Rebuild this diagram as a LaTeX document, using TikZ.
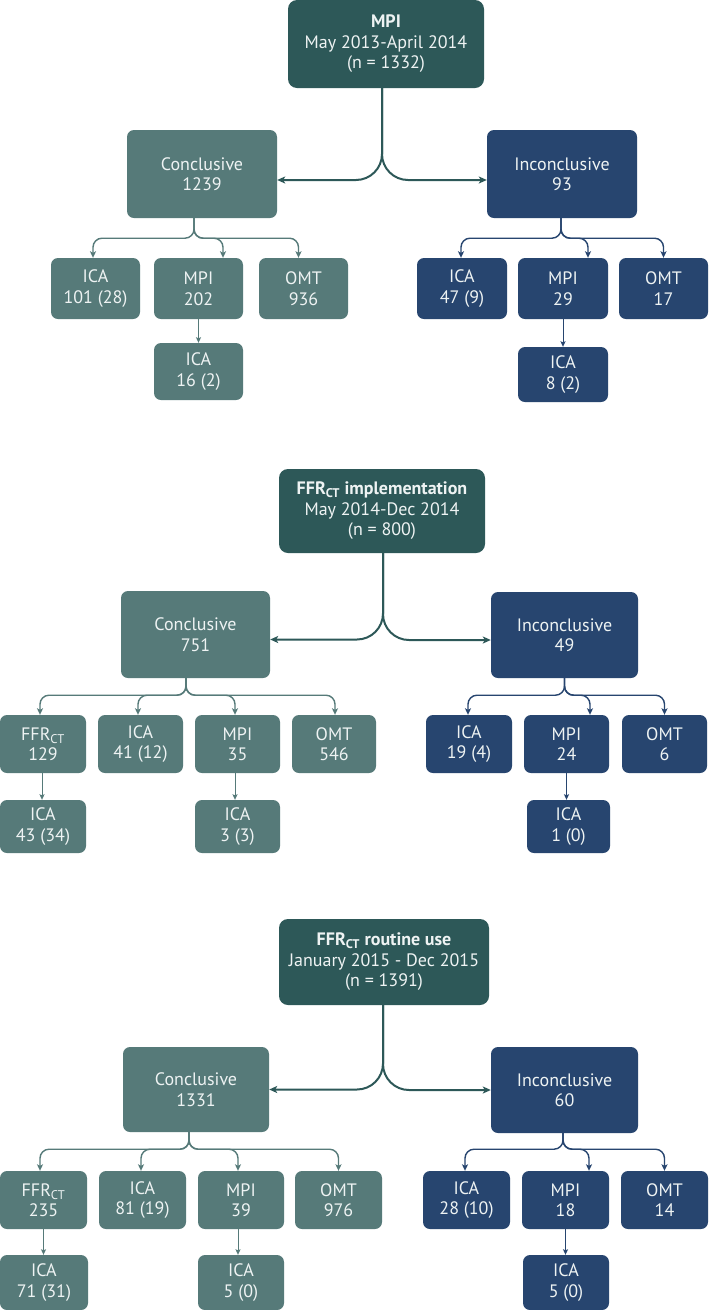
\documentclass[tikz,border=0pt]{standalone}
\usepackage{fontspec}
\setmainfont{PT Sans}
\usetikzlibrary{arrows.meta}
\definecolor{topc}{HTML}{2D5858}
\definecolor{concc}{HTML}{567A79}
\definecolor{incc}{HTML}{27456F}
\definecolor{txtc}{HTML}{EEF3F3}
\tikzset{
 box/.style={rounded corners=7pt, inner sep=0pt, text=txtc, align=center, font=\fontsize{18}{20.5}\selectfont},
 topbox/.style={box, fill=topc, rounded corners=9pt},
 cbox/.style={box, fill=concc},
 ibox/.style={box, fill=incc},
 mainarrow/.style={draw=topc, line width=2pt, -{Stealth[length=8pt,width=7pt,inset=2pt]}, rounded corners=26pt},
 carrow/.style={draw=concc, line width=1.4pt, -{Stealth[length=6.5pt,width=6pt,inset=1.5pt]}, rounded corners=9pt},
 iarrow/.style={draw=incc, line width=1.4pt, -{Stealth[length=6.5pt,width=6pt,inset=1.5pt]}, rounded corners=9pt},
 csub/.style={draw=concc, line width=1pt, -{Stealth[length=5.5pt,width=5pt,inset=1pt]}},
 isub/.style={draw=incc, line width=1pt, -{Stealth[length=5.5pt,width=5pt,inset=1pt]}},
}
\newcommand\bx[7]{\node[#6, minimum width={(#4-#2)*1pt}, minimum height={(#5-#3)*1pt}] (#1) at ({(#2+#4)/2},{(#3+#5)/2}) {#7};}
\begin{document}
\begin{tikzpicture}[x=1pt,y=-1pt]
\useasboundingbox[fill=white] (0,0) rectangle (709,1310);
% ---------- Section 1
\bx{t1}{288}{0}{484}{88}{topbox}{\textbf{MPI}\\May 2013-April 2014\\(n = 1332)}
\bx{c1}{127}{130}{277}{218}{cbox}{Conclusive\\1239}
\bx{i1}{487}{130}{637}{218}{ibox}{Inconclusive\\93}
\draw[mainarrow] ([xshift=-4pt]t1.south) |- ([yshift=-6pt]c1.east);
\draw[mainarrow] ([xshift=-4pt]t1.south) |- ([yshift=-6pt]i1.west);
\bx{c1a}{51}{258}{140}{319}{cbox}{ICA\\101 (28)}
\bx{c1b}{154}{258}{243}{319}{cbox}{MPI\\202}
\bx{c1c}{259}{258}{348}{319}{cbox}{OMT\\936}
\bx{c1d}{154}{343}{243}{400}{cbox}{ICA\\16 (2)}
\draw[carrow] ([xshift=-8pt]c1.south) -- ++(0,20) -| ([xshift=-2.5pt]c1a.north);
\draw[carrow] ([xshift=-8pt]c1.south) -- ++(0,20) -| ([xshift=24.5pt]c1b.north);
\draw[carrow] ([xshift=-8pt]c1.south) -- ++(0,20) -| ([xshift=-5pt]c1c.north);
\draw[csub] (c1b.south) -- (c1d.north);
\bx{i1a}{417}{258}{507}{319}{ibox}{ICA\\47 (9)}
\bx{i1b}{518}{258}{608}{319}{ibox}{MPI\\29}
\bx{i1c}{619}{258}{708}{319}{ibox}{OMT\\17}
\bx{i1d}{518}{347}{608}{402}{ibox}{ICA\\8 (2)}
\draw[iarrow] ([xshift=-1pt]i1.south) -- ++(0,20) -| ([xshift=-1pt]i1a.north);
\draw[iarrow] ([xshift=-1pt]i1.south) -- ++(0,20) -| ([xshift=25pt]i1b.north);
\draw[iarrow] ([xshift=-1pt]i1.south) -- ++(0,20) -| (i1c.north);
\draw[isub] (i1b.south) -- (i1d.north);
% ---------- Section 2
\bx{t2}{279}{469}{485}{553}{topbox}{\textbf{FFR\textsubscript{CT} implementation}\\May 2014-Dec 2014\\(n = 800)}
\bx{c2}{121}{591}{270}{678}{cbox}{Conclusive\\751}
\bx{i2}{491}{592}{638}{678}{ibox}{Inconclusive\\49}
\draw[mainarrow] ([xshift=1pt]t2.south) |- ([yshift=-5pt]c2.east);
\draw[mainarrow] ([xshift=1pt]t2.south) |- ([yshift=-5pt]i2.west);
\bx{c2a}{0}{715}{86}{773}{cbox}{FFR\textsubscript{CT}\\129}
\bx{c2b}{98}{715}{183}{773}{cbox}{ICA\\41 (12)}
\bx{c2c}{195}{715}{280}{773}{cbox}{MPI\\35}
\bx{c2d}{292}{715}{376}{773}{cbox}{OMT\\546}
\bx{c2e}{0}{800}{86}{853}{cbox}{ICA\\43 (34)}
\bx{c2f}{195}{800}{280}{853}{cbox}{ICA\\3 (3)}
\draw[carrow] ([xshift=-9.5pt]c2.south) -- ++(0,17) -| ([xshift=-3pt]c2a.north);
\draw[carrow] ([xshift=-9.5pt]c2.south) -- ++(0,17) -| ([xshift=-2.5pt]c2b.north);
\draw[carrow] ([xshift=-9.5pt]c2.south) -- ++(0,17) -| ([xshift=-2.5pt]c2c.north);
\draw[carrow] ([xshift=-9.5pt]c2.south) -- ++(0,17) -| ([xshift=1pt]c2d.north);
\draw[csub] ([xshift=-1pt]c2a.south) -- ([xshift=-1pt]c2e.north);
\draw[csub] ([xshift=-2.5pt]c2c.south) -- ([xshift=-2.5pt]c2f.north);
\bx{i2a}{426}{715}{512}{773}{ibox}{ICA\\19 (4)}
\bx{i2b}{524}{715}{609}{773}{ibox}{MPI\\24}
\bx{i2c}{622}{715}{707}{773}{ibox}{OMT\\6}
\bx{i2d}{527}{800}{610}{853}{ibox}{ICA\\1 (0)}
\draw[iarrow] (i2.south) -- ++(0,17) -| ([xshift=-1pt]i2a.north);
\draw[iarrow] (i2.south) -- ++(0,17) -| ([xshift=23.5pt]i2b.north);
\draw[iarrow] (i2.south) -- ++(0,17) -| (i2c.north);
\draw[isub] (i2b.south) -- (i2b.south |- i2d.north);
% ---------- Section 3
\bx{t3}{279}{919}{489}{1005}{topbox}{\textbf{FFR\textsubscript{CT} routine use}\\January 2015 - Dec 2015\\(n = 1391)}
\bx{c3}{123}{1047}{269}{1132}{cbox}{Conclusive\\1331}
\bx{i3}{491}{1047}{638}{1133}{ibox}{Inconclusive\\60}
\draw[mainarrow] ([xshift=-1pt]t3.south) |- (c3.east);
\draw[mainarrow] ([xshift=-1pt]t3.south) |- (i3.west);
\bx{c3a}{0}{1171}{87}{1229}{cbox}{FFR\textsubscript{CT}\\235}
\bx{c3b}{99}{1171}{186}{1229}{cbox}{ICA\\81 (19)}
\bx{c3c}{198}{1171}{284}{1229}{cbox}{MPI\\39}
\bx{c3d}{295}{1171}{382}{1229}{cbox}{OMT\\976}
\bx{c3e}{0}{1255}{88}{1310}{cbox}{ICA\\71 (31)}
\bx{c3f}{198}{1255}{284}{1310}{cbox}{ICA\\5 (0)}
\draw[carrow] ([xshift=-7pt]c3.south) -- ++(0,17) -| ([xshift=-3.5pt]c3a.north);
\draw[carrow] ([xshift=-7pt]c3.south) -- ++(0,17) -| ([xshift=-1.5pt]c3b.north);
\draw[carrow] ([xshift=-7pt]c3.south) -- ++(0,17) -| ([xshift=-3pt]c3c.north);
\draw[carrow] ([xshift=-7pt]c3.south) -- ++(0,17) -| (c3d.north);
\draw[csub] (c3a.south) -- (c3a.south |- c3e.north);
\draw[csub] ([xshift=-3pt]c3c.south) -- ([xshift=-3pt]c3f.north);
\bx{i3a}{423}{1171}{510}{1229}{ibox}{ICA\\28 (10)}
\bx{i3b}{522}{1171}{609}{1229}{ibox}{MPI\\18}
\bx{i3c}{621}{1171}{708}{1229}{ibox}{OMT\\14}
\bx{i3d}{523}{1255}{609}{1310}{ibox}{ICA\\5 (0)}
\draw[iarrow] ([xshift=-1.5pt]i3.south) -- ++(0,16) -| ([xshift=-1.5pt]i3a.north);
\draw[iarrow] ([xshift=-1.5pt]i3.south) -- ++(0,16) -| ([xshift=23.5pt]i3b.north);
\draw[iarrow] ([xshift=-1.5pt]i3.south) -- ++(0,16) -| (i3c.north);
\draw[isub] (i3b.south) -- (i3b.south |- i3d.north);
\end{tikzpicture}
\end{document}
